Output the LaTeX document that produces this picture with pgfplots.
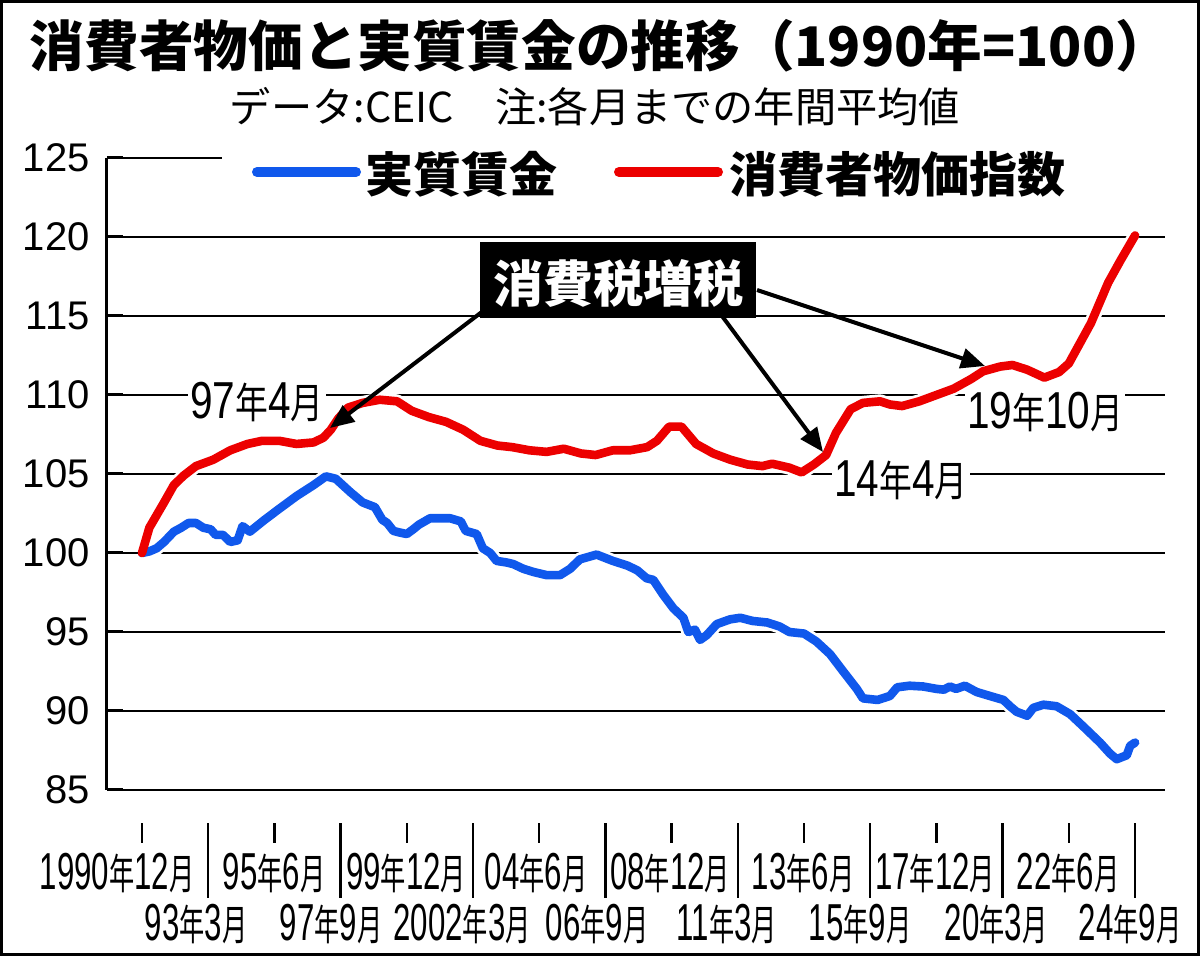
\documentclass[border=0pt]{standalone}
\usepackage{pgfplots}
\pgfplotsset{compat=1.18}
\usepackage{pgfplotstable}
\usetikzlibrary{arrows.meta}
\usepackage{fontspec}
\setmainfont{Liberation Sans}
\newfontfamily\jp{Noto Sans CJK JP}
\definecolor{wblue}{RGB}{16,88,236}
\definecolor{cred}{RGB}{236,0,0}
\newcommand\dg[1]{{\fontsize{26}{26}\selectfont #1}}
\newcommand\kj[1]{{\jp\fontsize{21}{21}\selectfont #1}}
\newcommand\ym[2]{\scalebox{0.6}[1]{\dg{#1}\kj{年}\dg{#2}\kj{月}}}
\newcommand\am[2]{\scalebox{0.78}[1]{\dg{#1}\kj{年}\dg{#2}\kj{月}}}

\pgfplotstableread{
m v
0 100.0
3 101.6
6 102.4
9 103.2
13 104.3
17 104.9
22 105.5
29 105.9
36 106.5
43 106.9
49 107.1
56 107.1
63 106.9
70 107.0
74 107.3
77 107.8
80 108.5
84 109.2
90 109.5
97 109.7
104 109.6
110 109.0
117 108.6
124 108.3
131 107.8
138 107.1
145 106.8
151 106.7
158 106.5
165 106.4
172 106.6
179 106.3
185 106.2
192 106.5
199 106.5
206 106.7
210 107.1
215 108.0
220 108.0
226 106.9
233 106.3
240 105.9
247 105.6
253 105.5
257 105.65
264 105.4
269 105.1
274 105.6
279 106.2
283 107.6
289 109.1
294 109.5
301 109.6
305 109.4
310 109.3
317 109.6
324 110.0
331 110.4
338 111.0
343 111.5
350 111.8
355 111.9
361 111.6
368 111.1
374 111.45
378 112.0
381 112.85
387 114.55
394 117.1
399 118.5
405 120.1
}\cpi

\pgfplotstableread{
m v
0 100.0
3 100.1
6 100.3
9 100.7
13 101.35
16 101.6
19 101.9
22 101.9
25 101.6
28 101.5
30 101.15
33 101.15
36 100.7
39 100.8
41 101.7
44 101.35
50 102.1
56 102.8
63 103.6
70 104.3
75 104.85
79 104.7
85 103.85
90 103.2
95 102.9
98 102.1
100 101.9
102.5 101.4
105 101.3
108 101.2
110.6 101.5
113 101.8
117.5 102.2
121 102.2
125.6 102.2
130 102.0
132 101.4
136.5 101.2
139 100.3
142 100.0
144.6 99.5
148.7 99.4
151.4 99.3
155.5 99.0
159.6 98.8
165 98.6
170.5 98.6
174.6 99.0
178.6 99.6
185.4 99.9
192 99.5
198 99.2
202 98.9
205.8 98.4
208.5 98.3
212.6 97.35
216.7 96.5
220.8 95.9
222.8 95.0
225.5 95.15
227.6 94.5
230.3 94.8
234.4 95.5
239.8 95.8
244 95.9
249 95.7
255 95.6
260 95.35
264 95.0
270 94.9
275 94.4
280.6 93.6
286 92.5
291.5 91.4
294 90.8
300 90.7
305 90.95
308 91.5
313 91.6
318.6 91.55
324 91.4
327 91.35
329.5 91.55
332 91.4
335.6 91.6
340.4 91.2
345.8 90.95
351.3 90.7
354 90.3
356.7 89.95
361 89.7
363.5 90.2
367.6 90.4
373 90.3
378.5 89.8
384 89.0
390.7 88.0
394.8 87.3
397.5 86.95
401.6 87.2
403 87.8
405 88.0
}\wage

\begin{document}
\begin{tikzpicture}[x=0.5pt,y=-0.5pt]
\useasboundingbox (0,0) rectangle (1200,956);
\fill[white] (0,0) rectangle (1200,956);
\begin{axis}[
  at={(53.5pt,-395pt)}, anchor=south west,
  scale only axis, width=529pt, height=316pt,
  xmin=-14.27, xmax=417.2, ymin=85, ymax=125,
  axis x line=none, axis y line*=left,
  y axis line style={line width=1.5pt,-},
  every outer y axis line/.append style={-},
  ytick={85,90,...,125},
  ymajorgrids, grid style={black, line width=1pt},
  tick style={black, line width=1.5pt},
  major tick length=8pt, tick align=inside,
  yticklabel style={font=\fontsize{20}{20}\selectfont, inner sep=0pt, xshift=-8.5pt, anchor=east},
  /pgf/number format/assume math mode=true,
  clip=false,
]
\node[fill=white, inner sep=1pt] at (axis cs:46.9,109.56) {\am{97}{4}};
\node[fill=white, inner sep=1pt] at (axis cs:309.5,104.62) {\am{14}{4}};
\node[fill=white, inner sep=1pt] at (axis cs:368.3,108.92) {\am{19}{10}};
\addplot[white, line width=7pt, line join=round] table[x=m,y=v] {\wage};
\addplot[white, line width=7pt, line join=round] table[x=m,y=v] {\cpi};
\addplot[wblue, line width=4.3pt, line join=round, line cap=round] table[x=m,y=v] {\wage};
\addplot[cred, line width=4.3pt, line join=round, line cap=round] table[x=m,y=v] {\cpi};
\end{axis}
% legend
\fill[white] (222,138) rectangle (1170,212);
\draw[wblue, line width=5pt, line cap=round] (257,172) -- (356,172);
\node[anchor=west, inner sep=0pt] at (365,174) {\jp\bfseries\fontsize{24}{24}\selectfont 実質賃金};
\draw[cred, line width=5pt, line cap=round] (619,172) -- (718,172);
\node[anchor=west, inner sep=0pt] at (729,174) {\jp\bfseries\fontsize{24}{24}\selectfont 消費者物価指数};
% title
\node at (600,46) {\resizebox{570pt}{!}{\jp\bfseries\fontsize{27}{27}\selectfont 消費者物価と実質賃金の推移（1990年=100）}};
\node at (595,107) {\resizebox{365pt}{!}{\jp\fontsize{20}{20}\selectfont データ:CEIC　注:各月までの年間平均値}};
% tax box and arrows
\fill[black] (480,242) rectangle (756,318);
\node[text=white] at (618,283) {\jp\bfseries\fontsize{25}{25}\selectfont 消費税増税};
\draw[line width=2pt, -{Triangle[length=12pt,width=10pt]}] (487,308) -- (330,428);
\draw[line width=2pt, -{Triangle[length=12pt,width=10pt]}] (722,316) -- (823,452);
\draw[line width=2pt, -{Triangle[length=12pt,width=10pt]}] (757,290) -- (985,366);
% x ticks
\foreach \k in {0,2,...,14} \draw[line width=1.2pt] ({142+66.2*\k},823) -- ({142+66.2*\k},843);
\foreach \k in {1,3,...,15} \draw[line width=1.2pt] ({142+66.2*\k},823) -- ({142+66.2*\k},898);
\node at (117,873) {\ym{1990}{12}};
\node at (274,873) {\ym{95}{6}};
\node at (406,873) {\ym{99}{12}};
\node at (536,873) {\ym{04}{6}};
\node at (670,873) {\ym{08}{12}};
\node at (803,873) {\ym{13}{6}};
\node at (935,873) {\ym{17}{12}};
\node at (1068,873) {\ym{22}{6}};
\node at (196,924) {\ym{93}{3}};
\node at (331,924) {\ym{97}{9}};
\node at (462,924) {\ym{2002}{3}};
\node at (597,924) {\ym{06}{9}};
\node at (727,924) {\ym{11}{3}};
\node at (860,924) {\ym{15}{9}};
\node at (996,924) {\ym{20}{3}};
\node at (1130,924) {\ym{24}{9}};
% frame
\draw[line width=1.5pt] (1.5,1.5) rectangle (1198.5,954.5);
\end{tikzpicture}
\end{document}
